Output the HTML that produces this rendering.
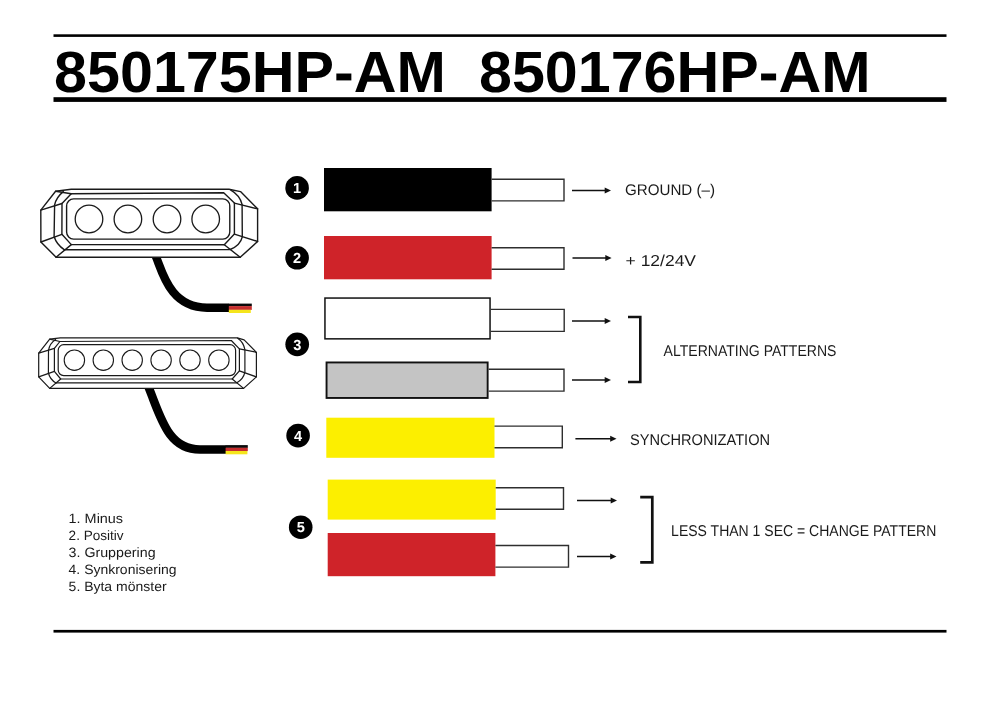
<!DOCTYPE html>
<html><head><meta charset="utf-8"><style>
html,body{margin:0;padding:0;background:#fff;width:1000px;height:707px;overflow:hidden}
svg{display:block;will-change:transform} text{text-rendering:geometricPrecision}
</style></head><body>
<svg width="1000" height="707" viewBox="0 0 1000 707">
<rect x="53.5" y="34.3" width="893" height="2.6" fill="#000"/>
<rect x="53.5" y="97.2" width="893" height="4.7" fill="#000"/>
<rect x="53.5" y="629.9" width="893" height="2.7" fill="#000"/>
<text x="54.0" y="92.3" font-family="Liberation Sans" font-weight="bold" font-size="58" fill="#000" textLength="392" lengthAdjust="spacingAndGlyphs">850175HP-AM</text>
<text x="479.0" y="92.3" font-family="Liberation Sans" font-weight="bold" font-size="58" fill="#000" textLength="391.5" lengthAdjust="spacingAndGlyphs">850176HP-AM</text>
<path d="M153.3 250 L156.5 258 C162.7 273.5 171 307.7 207 307.7 L229 307.7" fill="none" stroke="#000" stroke-width="8.4"/>
<rect x="228.8" y="303.6" width="23" height="2.6" fill="#0a0a0a"/>
<rect x="228.8" y="306.1" width="23" height="3.8" fill="#c62e2e"/>
<rect x="228.8" y="309.8" width="22" height="3.2" fill="#f5e51c"/>
<g fill="none" stroke="#1a1a1a" stroke-width="1.4" stroke-linejoin="round" stroke-linecap="round">
<path fill="#fff" d="M40.8 210.1 L55.6 191.2 L71.2 189.3 L229 189.3 L240.5 191.6 L257.6 208.8 L257.6 241.5 L240.2 257.3 L56.1 257.2 L40.9 242 Z"/>
<path d="M62 203.5 L71.2 193.8 L223.7 192.8 L234.4 203.1 L234.4 234.1 L224.3 244.7 L71.3 244.6 L61.9 234.3 Z"/>
<path d="M55.6 191.2 L71.2 193.8 M56.1 257.2 L71.3 244.6 M240.2 257.3 L224.3 244.7"/>
<path d="M40.8 210.1 L62 203.5 M40.9 242 L61.9 234.3 M234.4 203.1 L257.6 208.8 M234.4 234.1 L257.6 241.5"/>
<path d="M63.3 191.6 Q56 197.5 54.6 205 L54.1 236.5 Q56.5 244.5 64.5 249.9"/>
<path d="M64.5 249.8 L230.2 249.5 Q240.5 245 242.3 236.8 L242.1 204.4 Q239.5 195 230.8 190.2"/>
<rect x="66.6" y="198.9" width="163.2" height="40.2" rx="7" ry="7"/>
<circle cx="89.0" cy="219.0" r="13.8" stroke-width="1.3"/>
<circle cx="127.9" cy="219.0" r="13.8" stroke-width="1.3"/>
<circle cx="167.0" cy="219.0" r="13.8" stroke-width="1.3"/>
<circle cx="205.7" cy="219.0" r="13.8" stroke-width="1.3"/>
</g>
<path d="M146.5 382 L149.3 389 C161.2 418.8 168.6 449.5 200 449.5 L226 449.5" fill="none" stroke="#000" stroke-width="8.6"/>
<rect x="225.6" y="445.1" width="22.2" height="2.8" fill="#0a0a0a"/>
<rect x="225.6" y="447.8" width="22.2" height="3.3" fill="#c62e2e"/>
<rect x="225.6" y="451" width="21.8" height="3.3" fill="#f5e51c"/>
<g fill="none" stroke="#1a1a1a" stroke-width="1.2" stroke-linejoin="round" stroke-linecap="round">
<path fill="#fff" d="M38.7 353.1 L49.7 339.1 L60.3 337.9 L237.3 337.9 L244.1 339.9 L256.4 352.3 L256.4 376.9 L243.6 388.4 L49.7 388.4 L38.7 376.9 Z"/>
<path d="M54.4 348.4 L59.9 341.5 L231.3 340.5 L239.4 348.9 L239.4 370.9 L232.2 379 L60.7 379 L54.4 371.4 Z"/>
<path d="M49.7 339.1 L59.9 341.5 M49.7 388.4 L60.7 379 M243.6 388.4 L232.2 379"/>
<path d="M38.7 353.1 L54.4 348.4 M38.7 376.9 L54.4 371.4 M239.4 348.9 L256.4 352.3 M239.4 370.9 L256.4 376.9"/>
<path d="M55.6 339.5 Q49.5 343.5 48.5 350.5 L48.4 373 Q50 379.5 56 383"/>
<path d="M56 382.9 L236.9 382.8 Q243.5 379 244.9 372.2 L244.9 349.7 Q243.5 342 237.7 338.2"/>
<rect x="58.2" y="344.7" width="177.4" height="30.9" rx="5.5" ry="5.5"/>
<circle cx="74.4" cy="360.2" r="10.2" stroke-width="1.1"/>
<circle cx="103.3" cy="360.2" r="10.2" stroke-width="1.1"/>
<circle cx="132.2" cy="360.2" r="10.2" stroke-width="1.1"/>
<circle cx="161.1" cy="360.2" r="10.2" stroke-width="1.1"/>
<circle cx="190.0" cy="360.2" r="10.2" stroke-width="1.1"/>
<circle cx="218.9" cy="360.2" r="10.2" stroke-width="1.1"/>
</g>
<circle cx="297.1" cy="187.9" r="11.8" fill="#000"/><text x="297.1" y="193.1" text-anchor="middle" font-family="Liberation Sans" font-weight="bold" font-size="14.6" fill="#fff">1</text>
<rect x="324" y="168" width="167.6" height="43.3" fill="#000"/>
<path d="M491.6 179.2 H564.0 V200.9 H491.6" fill="none" stroke="#2e2e2e" stroke-width="1.4"/>
<line x1="572" y1="190.5" x2="607" y2="190.5" stroke="#111" stroke-width="1.5"/><path d="M604.7 187.5 L611 190.5 L604.7 193.5 Z" fill="#111"/>
<text x="625" y="194.8" font-family="Liberation Sans" font-weight="normal" font-size="15.4" fill="#1a1a1a" textLength="90" lengthAdjust="spacingAndGlyphs">GROUND (–)</text>
<circle cx="297.1" cy="257.8" r="11.8" fill="#000"/><text x="297.1" y="263.0" text-anchor="middle" font-family="Liberation Sans" font-weight="bold" font-size="14.6" fill="#fff">2</text>
<rect x="324" y="236" width="167.6" height="43.3" fill="#cf2329"/>
<path d="M491.6 247.7 H564.0 V269.3 H491.6" fill="none" stroke="#2e2e2e" stroke-width="1.4"/>
<line x1="572.5" y1="258" x2="607.6" y2="258" stroke="#111" stroke-width="1.5"/><path d="M605.3000000000001 255 L611.6 258 L605.3000000000001 261 Z" fill="#111"/>
<text x="625.6" y="266.0" font-family="Liberation Sans" font-weight="normal" font-size="15.8" fill="#1a1a1a" textLength="70.4" lengthAdjust="spacingAndGlyphs">+ 12/24V</text>
<circle cx="297.2" cy="344.3" r="11.85" fill="#000"/><text x="297.2" y="349.5" text-anchor="middle" font-family="Liberation Sans" font-weight="bold" font-size="14.6" fill="#fff">3</text>
<rect x="324.95" y="298.05" width="165.1" height="40.8" fill="#fff" stroke="#111" stroke-width="1.5"/>
<path d="M490.8 309.4 H564.2 V331.4 H490.8" fill="none" stroke="#2e2e2e" stroke-width="1.4"/>
<line x1="572" y1="321" x2="607" y2="321" stroke="#111" stroke-width="1.5"/><path d="M604.7 318 L611 321 L604.7 324 Z" fill="#111"/>
<rect x="326.55" y="362.45" width="161.1" height="35.5" fill="#c4c4c4" stroke="#111" stroke-width="1.9"/>
<path d="M488.6 369.3 H564.0 V391.1 H488.6" fill="none" stroke="#2e2e2e" stroke-width="1.4"/>
<line x1="572" y1="380" x2="607" y2="380" stroke="#111" stroke-width="1.5"/><path d="M604.7 377 L611 380 L604.7 383 Z" fill="#111"/>
<path d="M628 317 H640.3 V382 H628" fill="none" stroke="#111" stroke-width="2.6"/>
<text x="663.6" y="356.4" font-family="Liberation Sans" font-weight="normal" font-size="15.6" fill="#1a1a1a" textLength="172.8" lengthAdjust="spacingAndGlyphs">ALTERNATING PATTERNS</text>
<circle cx="298.1" cy="435.6" r="11.8" fill="#000"/><text x="298.1" y="440.8" text-anchor="middle" font-family="Liberation Sans" font-weight="bold" font-size="14.6" fill="#fff">4</text>
<rect x="326.3" y="417.7" width="168.2" height="40.1" fill="#fcef00"/>
<path d="M494.5 426.1 H562.3 V447.8 H494.5" fill="none" stroke="#2e2e2e" stroke-width="1.4"/>
<line x1="575.4" y1="438.8" x2="612.5" y2="438.8" stroke="#111" stroke-width="1.5"/><path d="M610.2 435.8 L616.5 438.8 L610.2 441.8 Z" fill="#111"/>
<text x="629.9" y="445.2" font-family="Liberation Sans" font-weight="normal" font-size="15.5" fill="#1a1a1a" textLength="140.2" lengthAdjust="spacingAndGlyphs">SYNCHRONIZATION</text>
<circle cx="300.7" cy="527.2" r="11.8" fill="#000"/><text x="300.7" y="532.4000000000001" text-anchor="middle" font-family="Liberation Sans" font-weight="bold" font-size="14.6" fill="#fff">5</text>
<rect x="327.7" y="479.6" width="168" height="40" fill="#fcef00"/>
<path d="M495.7 487.8 H563.5 V509.3 H495.7" fill="none" stroke="#2e2e2e" stroke-width="1.4"/>
<line x1="577" y1="500.4" x2="613" y2="500.4" stroke="#111" stroke-width="1.5"/><path d="M610.7 497.4 L617 500.4 L610.7 503.4 Z" fill="#111"/>
<rect x="327.7" y="533" width="167.7" height="43.2" fill="#cf2329"/>
<path d="M495.4 545.5 H568.5 V567.1 H495.4" fill="none" stroke="#2e2e2e" stroke-width="1.4"/>
<line x1="577" y1="556.4" x2="612.5" y2="556.4" stroke="#111" stroke-width="1.5"/><path d="M610.2 553.4 L616.5 556.4 L610.2 559.4 Z" fill="#111"/>
<path d="M640.2 497.1 H652.3 V562.4 H640.2" fill="none" stroke="#111" stroke-width="2.7"/>
<text x="671.1" y="536.2" font-family="Liberation Sans" font-weight="normal" font-size="15.6" fill="#1a1a1a" textLength="265.2" lengthAdjust="spacingAndGlyphs">LESS THAN 1 SEC = CHANGE PATTERN</text>
<text x="68.6" y="522.8" font-family="Liberation Sans" font-size="13.5" fill="#1a1a1a" textLength="54.5" lengthAdjust="spacingAndGlyphs">1. Minus</text>
<text x="68.6" y="539.8" font-family="Liberation Sans" font-size="13.5" fill="#1a1a1a" textLength="55" lengthAdjust="spacingAndGlyphs">2. Positiv</text>
<text x="68.6" y="556.8" font-family="Liberation Sans" font-size="13.5" fill="#1a1a1a" textLength="87" lengthAdjust="spacingAndGlyphs">3. Gruppering</text>
<text x="68.6" y="573.8" font-family="Liberation Sans" font-size="13.5" fill="#1a1a1a" textLength="108" lengthAdjust="spacingAndGlyphs">4. Synkronisering</text>
<text x="68.6" y="590.8" font-family="Liberation Sans" font-size="13.5" fill="#1a1a1a" textLength="98" lengthAdjust="spacingAndGlyphs">5. Byta mönster</text>
</svg>
</body></html>
